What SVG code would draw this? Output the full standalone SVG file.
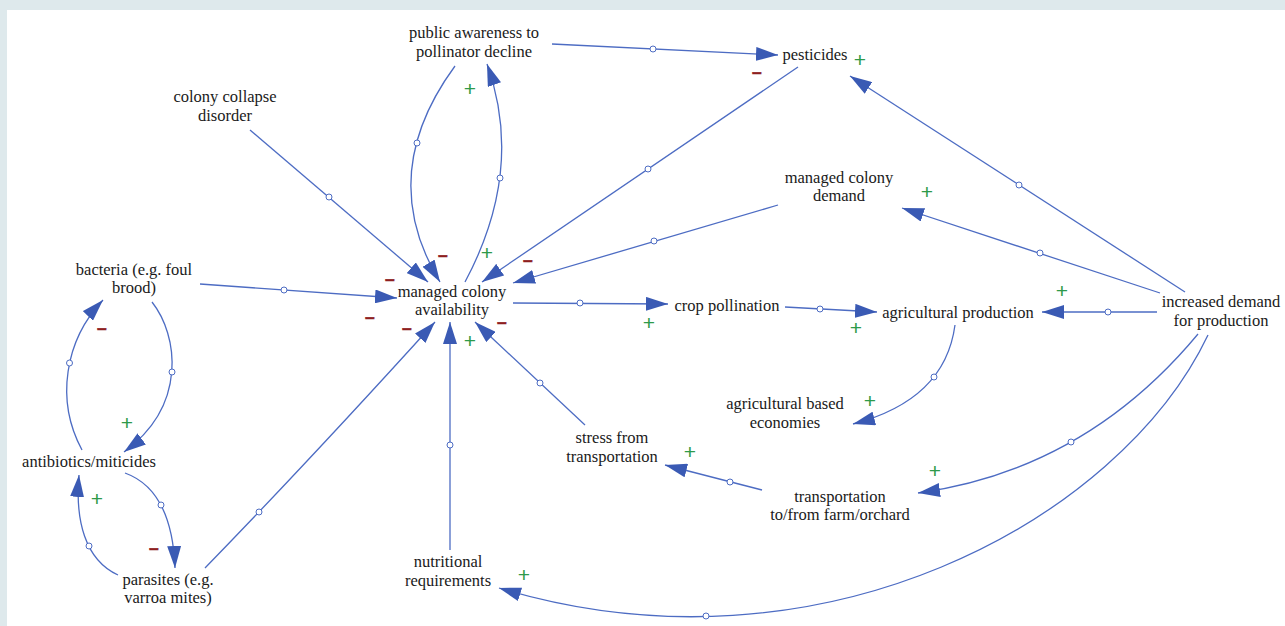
<svg xmlns="http://www.w3.org/2000/svg" width="1285" height="626" viewBox="0 0 1285 626">
<style>
.n{font-family:"Liberation Serif","Times New Roman",serif;font-size:16.5px;fill:#1a1a1a;text-anchor:middle}
.c{fill:none;stroke:#4d6cc3;stroke-width:1.3;marker-end:url(#ah)}
.d{fill:#fff;stroke:#4d6cc3;stroke-width:1}
.p{font-family:"Liberation Sans",Arial,sans-serif;font-size:21px;fill:#2e9a4a;text-anchor:middle}
.m{font-family:"Liberation Sans",Arial,sans-serif;font-size:17px;font-weight:bold;fill:#8e1f1f;stroke:#8e1f1f;stroke-width:0.6;text-anchor:middle}
</style>
<defs>
<marker id="ah" markerUnits="userSpaceOnUse" markerWidth="22" markerHeight="14" refX="22" refY="7" orient="auto">
<path d="M0,0 L22,7 L0,14 Z" fill="#3a5ab4"/>
</marker>
</defs>
<rect x="0" y="0" width="1285" height="626" fill="#dee9ec"/>
<rect x="7" y="10" width="1278" height="616" fill="#ffffff"/>

<g id="connectors">
<path class="c" d="M552,44 L778,55"/><circle class="d" cx="653" cy="49" r="3"/>
<path class="c" d="M1185,292 L850,76"/><circle class="d" cx="1019" cy="185" r="3"/>
<path class="c" d="M798,67 L482,282"/><circle class="d" cx="648" cy="169" r="3"/>
<path class="c" d="M778,205 L513,283"/><circle class="d" cx="654" cy="241" r="3"/>
<path class="c" d="M250,130 L428,282"/><circle class="d" cx="329" cy="197" r="3"/>
<path class="c" d="M455,66 Q375,175 440,282"/><circle class="d" cx="417" cy="143" r="3"/>
<path class="c" d="M465,282 Q525,170 487,64"/><circle class="d" cx="500" cy="178" r="3"/>
<path class="c" d="M200,284 L397,298"/><circle class="d" cx="284" cy="290" r="3"/>
<path class="c" d="M513,303 L668,304"/><circle class="d" cx="580" cy="303" r="3"/>
<path class="c" d="M785,307 L877,312"/><circle class="d" cx="820" cy="309" r="3"/>
<path class="c" d="M1157,312 L1042,312"/><circle class="d" cx="1108" cy="312" r="3"/>
<path class="c" d="M1160,293 L902,208"/><circle class="d" cx="1040" cy="253" r="3"/>
<path class="c" d="M955,325 Q945,400 853,424"/><circle class="d" cx="934" cy="377" r="3"/>
<path class="c" d="M762,490 L665,465"/><circle class="d" cx="730" cy="482" r="3"/>
<path class="c" d="M585,425 L475,322"/><circle class="d" cx="540" cy="383" r="3"/>
<path class="c" d="M1198,334 Q1085,470 918,493"/><circle class="d" cx="1071" cy="442" r="3"/>
<path class="c" d="M1208,335 C1120,520 820,685 499,588"/><circle class="d" cx="706" cy="616" r="3"/>
<path class="c" d="M205,568 Q310,460 435,322"/><circle class="d" cx="259" cy="512" r="3"/>
<path class="c" d="M450,550 L450,322"/><circle class="d" cx="450" cy="445" r="3"/>
<path class="c" d="M152,302 C178,335 188,405 124,452"/><circle class="d" cx="172" cy="372" r="3"/>
<path class="c" d="M82,450 C55,400 65,340 103,300"/><circle class="d" cx="69.5" cy="363" r="3"/>
<path class="c" d="M125,473 Q172,490 175,568"/><circle class="d" cx="161" cy="505" r="3"/>
<path class="c" d="M118,575 C85,560 75,520 79,475"/><circle class="d" cx="89" cy="546" r="3"/>
</g>

<g id="polarities">
<text class="p" x="470" y="96">+</text>
<text class="p" x="860" y="67">+</text>
<text class="p" x="927" y="199">+</text>
<text class="p" x="1062" y="298">+</text>
<text class="p" x="649" y="330">+</text>
<text class="p" x="856" y="335">+</text>
<text class="p" x="870" y="408">+</text>
<text class="p" x="690" y="459">+</text>
<text class="p" x="935" y="478">+</text>
<text class="p" x="524" y="582">+</text>
<text class="p" x="127" y="430">+</text>
<text class="p" x="97" y="506">+</text>
<text class="p" x="487" y="260">+</text>
<text class="p" x="470" y="348">+</text>
<text class="m" x="757" y="79">−</text>
<text class="m" x="443" y="262">−</text>
<text class="m" x="528" y="267">−</text>
<text class="m" x="390" y="286">−</text>
<text class="m" x="370" y="324">−</text>
<text class="m" x="407" y="335">−</text>
<text class="m" x="502" y="329">−</text>
<text class="m" x="102" y="335">−</text>
<text class="m" x="154" y="555">−</text>
</g>

<g id="public-awareness"><text class="n" x="474" y="38">public awareness to</text><text class="n" x="474" y="57">pollinator decline</text></g>
<g id="pesticides"><text class="n" x="815" y="60">pesticides</text></g>
<g id="colony-collapse"><text class="n" x="225" y="102">colony collapse</text><text class="n" x="225" y="121">disorder</text></g>
<g id="managed-colony-availability"><text class="n" x="452" y="297">managed colony</text><text class="n" x="452" y="315">availability</text></g>
<g id="managed-colony-demand"><text class="n" x="839" y="183">managed colony</text><text class="n" x="839" y="201">demand</text></g>
<g id="bacteria"><text class="n" x="134" y="275">bacteria (e.g. foul</text><text class="n" x="134" y="293">brood)</text></g>
<g id="crop-pollination"><text class="n" x="727" y="311">crop pollination</text></g>
<g id="agricultural-production"><text class="n" x="958" y="318">agricultural production</text></g>
<g id="increased-demand"><text class="n" x="1221" y="307">increased demand</text><text class="n" x="1221" y="326">for production</text></g>
<g id="agricultural-economies"><text class="n" x="785" y="409">agricultural based</text><text class="n" x="785" y="428">economies</text></g>
<g id="stress-transportation"><text class="n" x="612" y="443">stress from</text><text class="n" x="612" y="462">transportation</text></g>
<g id="transportation"><text class="n" x="840" y="502">transportation</text><text class="n" x="840" y="520">to/from farm/orchard</text></g>
<g id="antibiotics"><text class="n" x="89" y="467">antibiotics/miticides</text></g>
<g id="parasites"><text class="n" x="168" y="585">parasites (e.g.</text><text class="n" x="168" y="603">varroa mites)</text></g>
<g id="nutritional"><text class="n" x="448" y="567">nutritional</text><text class="n" x="448" y="586">requirements</text></g>
</svg>
